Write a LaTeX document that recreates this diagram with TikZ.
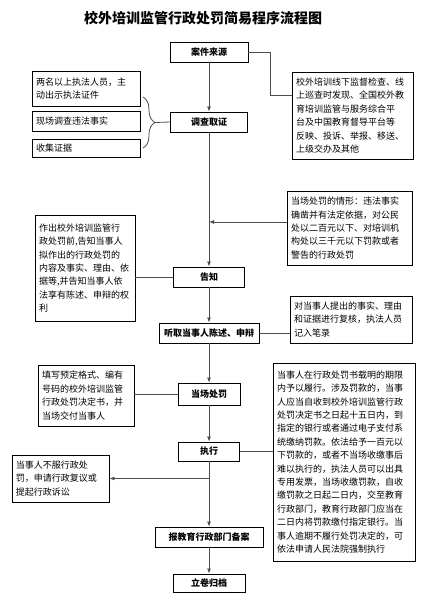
\documentclass[tikz,border=0pt]{standalone}
\usepackage{fontspec}
\setmainfont{Noto Sans CJK SC}
\usepackage{tikz}
\usetikzlibrary{arrows.meta,decorations.pathreplacing,positioning}

\begin{document}
\begin{tikzpicture}[x=1pt, y=-1pt, >={Latex[length=5pt,width=4pt]}]
    \tikzset{
      stepbox/.style={
        draw,
        line width=0.9pt,
        align=center,
        inner sep=0pt,
        minimum height=20pt,
        font=\bfseries\fontsize{9}{11}\selectfont
      },
      notebox/.style={
        draw,
        line width=0.9pt,
        align=left,
        inner xsep=4pt,
        inner ysep=2pt,
        font=\fontsize{9}{13.4}\selectfont
      },
      link/.style={draw=black!70, line width=0.8pt}
    }
    \useasboundingbox (0,0) rectangle (427,616);
    \node[font=\bfseries\fontsize{14}{16}\selectfont] (title) at (203,18) {校外培训监管行政处罚简易程序流程图};

    \node[stepbox, minimum width=78pt] (source) at (209,52) {案件来源};
    \node[stepbox, minimum width=77pt] (survey) at (209,122) {调查取证};
    \node[stepbox, minimum width=71pt] (inform) at (209,277) {告知};
    \node[stepbox, minimum width=100pt] (hearing) at (209,333) {听取当事人陈述、申辩};
    \node[stepbox, minimum width=62pt, minimum height=22pt] (spot) at (209,394) {当场处罚};
    \node[stepbox, minimum width=61pt, minimum height=19pt] (execute) at (209,451.5) {执行};
    \node[stepbox, minimum width=108pt] (filing) at (209,537) {报教育行政部门备案};
    \node[stepbox, minimum width=72pt, minimum height=18pt] (archive) at (209,583) {立卷归档};

    \node[notebox, text width=113pt, minimum height=87pt] (origins) at (352.5,115.5) {校外培训线下监督检查、线\\上巡查时发现、全国校外教\\育培训监管与服务综合平\\台及中国教育督导平台等\\反映、投诉、举报、移送、\\上级交办及其他};
    \node[notebox, text width=100pt, minimum height=35pt] (officers) at (86,88.5) {两名以上执法人员，主\\动出示执法证件};
    \node[notebox, text width=100pt, minimum height=20pt] (scene) at (86,121) {现场调查违法事实};
    \node[notebox, text width=100pt, minimum height=18pt] (evidence) at (86,148) {收集证据};
    \node[notebox, text width=117pt, minimum height=74pt] (cases) at (349.5,228) {当场处罚的情形：违法事实\\确凿并有法定依据，对公民\\处以二百元以下、对培训机\\构处以三千元以下罚款或者\\警告的行政处罚};
    \node[notebox, text width=92pt, minimum height=106pt] (notice) at (85,268) {作出校外培训监管行\\政处罚前,告知当事人\\拟作出的行政处罚的\\内容及事实、理由、依\\据等,并告知当事人依\\法享有陈述、申辩的权\\利};
    \node[notebox, text width=114pt, minimum height=47pt] (review) at (351,319.5) {对当事人提出的事实、理由\\和证据进行复核，执法人员\\记入笔录};
    \node[notebox, text width=88pt, minimum height=61pt] (decision) at (86,395.5) {填写预定格式、编有\\号码的校外培训监管\\行政处罚决定书，并\\当场交付当事人};
    \node[notebox, text width=134pt, minimum height=198pt] (payment) at (344,462) {当事人在行政处罚书载明的期限\\内予以履行。涉及罚款的，当事\\人应当自收到校外培训监管行政\\处罚决定书之日起十五日内，到\\指定的银行或者通过电子支付系\\统缴纳罚款。依法给予一百元以\\下罚款的，或者不当场收缴事后\\难以执行的，执法人员可以出具\\专用发票，当场收缴罚款，自收\\缴罚款之日起二日内，交至教育\\行政部门，教育行政部门应当在\\二日内将罚款缴付指定银行。当\\事人逾期不履行处罚决定的，可\\依法申请人民法院强制执行};
    \node[notebox, text width=89pt, minimum height=47pt] (appeal) at (60.5,478.5) {当事人不服行政处\\罚，申请行政复议或\\提起行政诉讼};

    \coordinate (brace top) at (143,97);
    \coordinate (brace bottom) at (143,148);
    \coordinate (brace tip) at (155,122.5);

    \draw[link, ->] (source) -- (survey);
    \draw[link, ->] (survey) -- (inform);
    \draw[link, ->] (inform) -- (hearing);
    \draw[link, ->] (hearing) -- (spot);
    \draw[link, ->] (spot) -- (execute);
    \draw[link, ->] (execute) -- (filing);
    \draw[link, ->] (filing) -- (archive);

    \draw[link] (source.east) -- ++(22,0) |- ([yshift=-24pt]origins.north west);
    \draw[link, decorate, decoration={brace, amplitude=12pt}] (brace top) -- (brace bottom);
    \draw[link] (brace tip) -- (survey.west);
    \draw[link, ->] ([yshift=6pt]cases.west) -- ([yshift=6pt]cases.west -| inform.north);
    \draw[link] (inform.west) -- (inform.west -| notice.east);
    \draw[link] (hearing.east) -- (hearing.east -| review.west);
    \draw[link] (spot.west) -- (spot.west -| decision.east);
    \draw[link] (execute.east) -- (execute.east -| payment.west);
    \draw[link, ->] (appeal.east -| execute.south) -- (appeal.east);
  \end{tikzpicture}
\end{document}
